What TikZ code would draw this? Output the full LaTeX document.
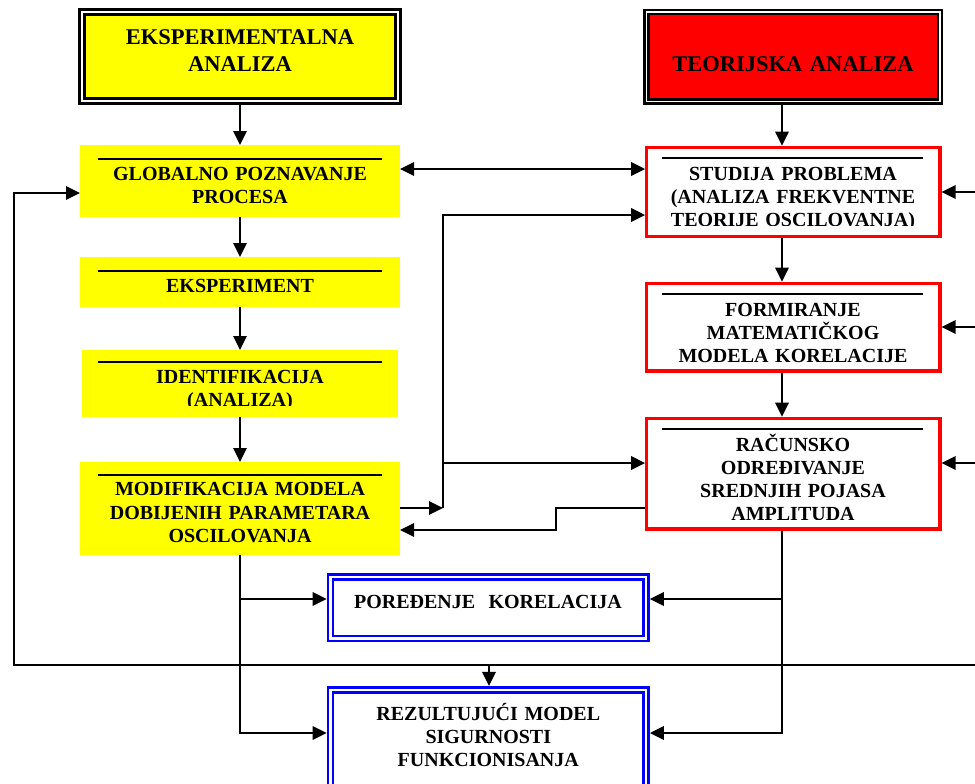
\documentclass[tikz,border=0pt]{standalone}
\usepackage{fontspec}
\setmainfont{Liberation Serif}
\usetikzlibrary{arrows.meta}

\definecolor{boxyellow}{RGB}{255,255,0}
\definecolor{boxred}{RGB}{255,0,0}
\definecolor{boxblue}{RGB}{0,0,255}

\tikzset{
  tip/.tip={Triangle[length=14pt,width=13.5pt]},
  arr/.style={line width=1.7pt,-tip},
  biarr/.style={line width=1.7pt,tip-tip},
  rule/.style={line width=1.7pt},
  box/.style={rectangle,inner sep=0pt,minimum width=#1},
  yelbox/.style={box=320pt,fill=boxyellow,outer sep=0pt},
  redbox/.style={box=293.3pt,draw=boxred,fill=white,line width=3.3pt,outer sep=1.65pt},
  titlebox/.style={rectangle,inner sep=0pt,draw=black,double=white,
    double distance=1.7pt,line width=3pt,outer sep=3.85pt},
  bluebox/.style={box=315.65pt,draw=boxblue,double=white,
    double distance=2.4pt,line width=2.6pt,outer sep=3.8pt},
  txt/.style={font=\bfseries\fontsize{20}{23.3}\selectfont,align=center,
    text width=310pt,inner sep=0pt,anchor=base},
  ttl/.style={font=\bfseries\fontsize{22.5}{26.7}\selectfont,align=center,
    text width=310pt,inner sep=0pt,anchor=base}
}

\begin{document}
\begin{tikzpicture}[x=1pt,y=-1pt]
\useasboundingbox (0,0) rectangle (975,784);
\clip (0,0) rectangle (975,784);

% ---------- heading boxes ----------
\node[titlebox,fill=boxyellow,minimum width=315.6pt,minimum height=89.1pt] (ea) at (240,56.75) {};
\node[ttl] (ea-t) at (240,45) {EKSPERIMENTALNA\\ANALIZA};

\node[titlebox,fill=boxred,minimum width=293.4pt,minimum height=89.3pt,
  line width=2.6pt,double distance=1.6pt] (ta) at (793.3,56.65) {};
\node[ttl] (ta-t) at (793,71.7) {TEORIJSKA ANALIZA};

% ---------- experimental branch ----------
\node[yelbox,minimum height=72pt] (gpp) at (240,181) {};
\draw[rule] (98,159) -- (382,159);
\node[txt] (gpp-t) at (240,180) {GLOBALNO POZNAVANJE\\PROCESA};

\node[yelbox,minimum height=50pt] (eksp) at (240,282) {};
\draw[rule] (98,271) -- (382,271);
\node[txt] (eksp-t) at (240,292.7) {EKSPERIMENT};

\node[yelbox,minimum width=316pt,minimum height=67pt] (ident) at (240,383.5) {};
\draw[rule] (98,362) -- (382,362);
\begin{scope}
  \clip (82,350) rectangle (398,405.5);
  \node[txt] (ident-t) at (240,383.3) {IDENTIFIKACIJA\\(ANALIZA)};
\end{scope}

\node[yelbox,minimum height=93pt] (mod) at (240,508.5) {};
\draw[rule] (98,475) -- (382,475);
\node[txt] (mod-t) at (240,495.8) {MODIFIKACIJA MODELA\\DOBIJENIH PARAMETARA\\OSCILOVANJA};

% ---------- theoretical branch ----------
\node[redbox,minimum height=89.4pt] (sp) at (793.35,192) {};
\draw[rule] (662,158) -- (923,158);
\begin{scope}
  \clip (646.7,147) rectangle (940,225.5);
  \node[txt] (sp-t) at (793,180) {STUDIJA PROBLEMA\\(ANALIZA FREKVENTNE\\TEORIJE OSCILOVANJA)};
\end{scope}

\node[redbox,minimum height=87.7pt] (fmm) at (793.35,327.15) {};
\draw[rule] (662,294) -- (923,294);
\node[txt] (fmm-t) at (793,316) {FORMIRANJE\\MATEMATIČKOG\\MODELA KORELACIJE};

\node[redbox,minimum height=110.7pt] (rsp) at (793.35,473.65) {};
\draw[rule] (662,429) -- (923,429);
\begin{scope}
  \clip (646.7,418) rectangle (940,519);
  \node[txt] (rsp-t) at (793,451) {RAČUNSKO\\ODREĐIVANJE\\SREDNJIH POJASA\\AMPLITUDA};
\end{scope}

% ---------- results ----------
\node[bluebox,minimum height=61.95pt] (pk) at (488.3,607.7) {};
\node[txt] (pk-t) at (488,608.3) {POREĐENJE\ \ KORELACIJA};

\node[bluebox,minimum height=110.3pt] (rez) at (488.3,744.85) {};
\node[txt] (rez-t) at (488.3,720) {REZULTUJUĆI MODEL\\SIGURNOSTI\\FUNKCIONISANJA};

% ---------- routing levels ----------
\coordinate (xY) at (240,0);
\coordinate (xR) at (782,0);
\coordinate (xJ) at (443,0);
\coordinate (xS) at (556,0);
\coordinate (xL) at (14,0);
\coordinate (xM) at (489,0);
\coordinate (xE) at (975,0);
\coordinate (yA) at (0,169);
\coordinate (yB) at (0,215);
\coordinate (yF) at (0,192);
\coordinate (yG) at (0,193);
\coordinate (yH) at (0,327);
\coordinate (yC) at (0,463);
\coordinate (yD) at (0,508);
\coordinate (yE) at (0,530);
\coordinate (yP) at (0,599);
\coordinate (yL) at (0,665);
\coordinate (yR) at (0,733);

% ---------- connectors ----------
\draw[arr] (ea.south) -- (gpp.north);
\draw[arr] (gpp.south) -- (eksp.north);
\draw[arr] (eksp.south) -- (ident.north);
\draw[arr] (ident.south) -- (mod.north);

\draw[arr] (ta.south -| xR) -- (sp.north -| xR);
\draw[arr] (sp.south -| xR) -- (fmm.north -| xR);
\draw[arr] (fmm.south -| xR) -- (rsp.north -| xR);

\draw[biarr] (gpp.east |- yA) -- (sp.west |- yA);
\draw[arr] (mod.east |- yD) -- (xJ |- yD);
\draw[arr] (xJ |- yD) -- (xJ |- yB) -- (sp.west |- yB);
\draw[arr] (xJ |- yC) -- (rsp.west |- yC);
\draw[arr] (rsp.west |- yD) -- (xS |- yD) -- (xS |- yE) -- (mod.east |- yE);

\draw[arr] (xE |- yF) -- (sp.east |- yF);
\draw[arr] (xE |- yH) -- (fmm.east |- yH);
\draw[arr] (xE |- yC) -- (rsp.east |- yC);

\draw[arr] (xE |- yL) -- (xL |- yL) -- (xL |- yG) -- (gpp.west |- yG);
\draw[arr] (xM |- yL) -- (rez.north -| xM);

\draw[arr] (mod.south) -- (xY |- yR) -- (rez.west |- yR);
\draw[arr] (xY |- yP) -- (pk.west |- yP);
\draw[arr] (rsp.south -| xR) -- (xR |- yR) -- (rez.east |- yR);
\draw[arr] (xR |- yP) -- (pk.east |- yP);
\end{tikzpicture}
\end{document}
